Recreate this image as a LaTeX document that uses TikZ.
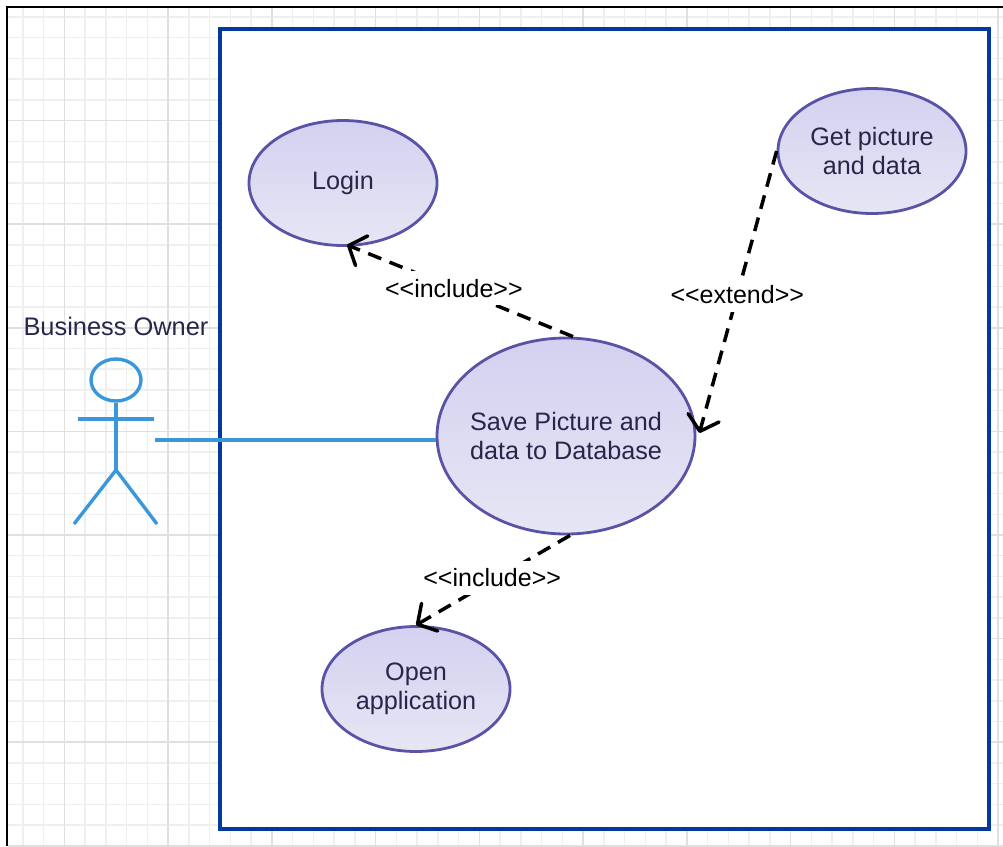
\documentclass[tikz,border=0pt]{standalone}
\usepackage{fontspec}
\setmainfont{Liberation Sans}
\usetikzlibrary{arrows.meta,shapes.geometric}
\definecolor{frameblue}{HTML}{003A9C}
\definecolor{ucline}{HTML}{5A52A6}
\definecolor{uctop}{HTML}{D3D1F0}
\definecolor{ucbot}{HTML}{E7E6F4}
\definecolor{uctext}{HTML}{26264A}
\definecolor{actorblue}{HTML}{3A97DC}
\definecolor{gridminor}{HTML}{EFEFEF}
\definecolor{gridmajor}{HTML}{E0E0E0}
\tikzset{
  x=1pt,y=-1pt,
  usecase/.style={ellipse,draw=ucline,line width=2.8pt,top color=uctop,bottom color=ucbot,
    text=uctext,align=center,inner sep=0pt,font=\fontsize{25.2}{28.5}\selectfont},
  stereo/.style={fill=white,inner xsep=2pt,inner ysep=8pt,text=black,font=\fontsize{25}{28}\selectfont},
  dep/.style={draw=black,line width=3.5pt,dash pattern=on 14pt off 9pt,
    -{Straight Barb[length=14pt,width=32pt,line width=3.5pt,round]}},
  actorline/.style={draw=actorblue,line width=3.4pt},
}
\begin{document}
\begin{tikzpicture}
\useasboundingbox (0,0) rectangle (1003,846);
% grid
\begin{scope}
\clip (8,8) rectangle (1003,846);
\foreach \i in {0,...,48}{
  \draw[gridminor,line width=1.5pt] ({22.8+\i*20.75},8) -- ({22.8+\i*20.75},846);}
\foreach \i in {0,...,40}{
  \draw[gridminor,line width=1.5pt] (8,{17+\i*20.72}) -- (1003,{17+\i*20.72});}
\foreach \i in {0,...,9}{
  \draw[gridmajor,line width=1.5pt] ({64.3+\i*103.75},8) -- ({64.3+\i*103.75},846);}
\foreach \i in {0,...,7}{
  \draw[gridmajor,line width=1.5pt] (8,{120.6+\i*103.6}) -- (1003,{120.6+\i*103.6});}
\end{scope}
% outer frame
\draw[black,line width=2pt] (7,846) -- (7,7) -- (1003,7);
% system boundary
\node[draw=frameblue,fill=white,line width=4pt,minimum width=769pt,minimum height=800pt,inner sep=0pt,anchor=north west] (system) at (218,27) {};
% use cases
\node[usecase,minimum width=188pt,minimum height=125pt] (login) at (343,183) {Login};
\node[usecase,minimum width=188pt,minimum height=125pt,inner xsep=-10pt] (getdata) at (872,151) {Get picture\\and data};
\node[usecase,minimum width=258pt,minimum height=196pt,inner xsep=-30pt] (save) at (566,436) {Save Picture and\\data to Database};
\node[usecase,minimum width=188pt,minimum height=125pt,inner xsep=-10pt] (open) at (416,689) {Open\\application};
% actor
\node[draw=actorblue,line width=3.4pt,ellipse,minimum width=50pt,minimum height=42pt,inner sep=0pt] (head) at (116,380) {};
\coordinate (hip) at (116,470);
\coordinate (armL) at (78,419);
\coordinate (armR) at (154,419);
\coordinate (legL) at (74,524);
\coordinate (legR) at (157,524);
\coordinate (actorhand) at (155,440);
\draw[actorline] (head.south) -- (hip);
\draw[actorline] (armL) -- (armR);
\draw[actorline] (legL) -- (hip) -- (legR);
\node[text=uctext,font=\fontsize{25.4}{28}\selectfont] (ownerlabel) at (116,326) {Business Owner};
\draw[actorline] (actorhand) -- (actorhand -| save.west);
% dependencies
\draw[dep] (save.north) ++(7,0) coordinate (s1) (login.south) ++(4,-2) coordinate (t1) (s1) -- (t1) node[stereo,pos=0.527] (l1) {<{}<include>{}>};
\draw[dep] (getdata.west) coordinate (g1) (save.east |- 0,433) ++(3,0) coordinate (t2) (g1) -- (t2) node[stereo,pos=0.51] (l2) {<{}<extend>{}>};
\draw[dep] (save.south) ++(4,0) coordinate (s2) (s2) -- (open.north) node[stereo,pos=0.473,xshift=-5pt] (l3) {<{}<include>{}>};
\end{tikzpicture}
\end{document}
